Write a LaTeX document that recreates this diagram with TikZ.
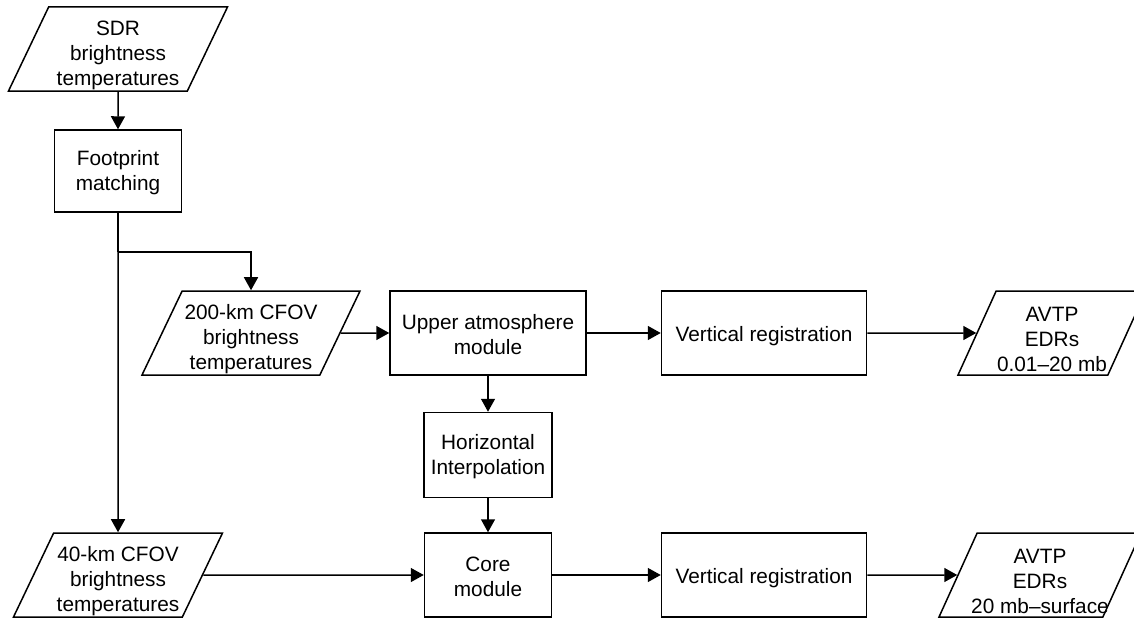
\documentclass[tikz,border=0pt]{standalone}
\usepackage{fontspec}
\setmainfont{Liberation Sans}
\usetikzlibrary{shapes.geometric,arrows.meta}

\tikzstyle{box}=[rectangle, draw=black, line width=1.5pt, align=center, inner sep=2pt, minimum height=84pt, execute at begin node={\rule{0pt}{21pt}}]
\tikzstyle{box2}=[rectangle, draw=black, line width=1.5pt, align=center, inner sep=2pt, minimum height=84pt, text height=44pt]
\tikzstyle{io}=[trapezium, trapezium left angle=64, trapezium right angle=116, trapezium stretches body, draw=black, line width=1.5pt, align=center, inner sep=0pt, minimum height=84pt, text height=78pt]
\tikzstyle{flow}=[line width=1.5pt, -{Triangle[length=13pt, width=14pt]}]

\begin{document}
\begin{tikzpicture}[x=1pt, y=-1pt, font=\fontsize{20.8}{25}\selectfont]
	\clip (0,0) rectangle (1134,618);

	% Inputs
	\node[io, minimum width=219pt] (sdr) at (118,49) {SDR\\brightness\\temperatures};
	\node[io, minimum width=218pt] (cf200) at (251,333) {200-km CFOV\\brightness\\temperatures};
	\node[io, minimum width=209pt] (cf40) at (118,575) {40-km CFOV\\brightness\\temperatures};

	% Processing
	\node[box2, minimum width=127pt, minimum height=82pt] (fm) at (118,171) {Footprint\\matching};
	\node[box2, minimum width=196pt] (upper) at (488,333) {Upper atmosphere\\module};
	\node[box2, minimum width=128pt, minimum height=85pt] (horiz) at (488,455) {Horizontal\\Interpolation};
	\node[box2, minimum width=127pt] (core) at (488,575) {Core\\module};
	\node[box, minimum width=205pt] (vr1) at (764,333) {Vertical registration};
	\node[box, minimum width=205pt] (vr2) at (764,575) {Vertical registration};

	% Outputs (the last line runs over the slanted edge)
	\node[io, minimum width=188pt] (avtp1) at (1052,333) {AVTP\\EDRs\\\makebox[96pt]{0.01\textendash20 mb}};
	\node[io, minimum width=202pt] (avtp2) at (1040,575) {AVTP\\EDRs\\\makebox[110pt]{20 mb\textendash surface}};

	\coordinate (split) at (118,252);

	\draw[flow] (sdr) -- (fm);
	\draw[line width=1.5pt] (fm.south) -- (split);
	\draw[flow] (split) -| (cf200.north);
	\draw[flow] (split) -- (cf40.north);
	\draw[flow] (cf200) -- (upper);
	\draw[flow] (upper) -- (vr1);
	\draw[flow] (vr1) -- (avtp1);
	\draw[flow] (upper) -- (horiz);
	\draw[flow] (horiz) -- (core);
	\draw[flow] (cf40) -- (core);
	\draw[flow] (core) -- (vr2);
	\draw[flow] (vr2) -- (avtp2);
\end{tikzpicture}
\end{document}
